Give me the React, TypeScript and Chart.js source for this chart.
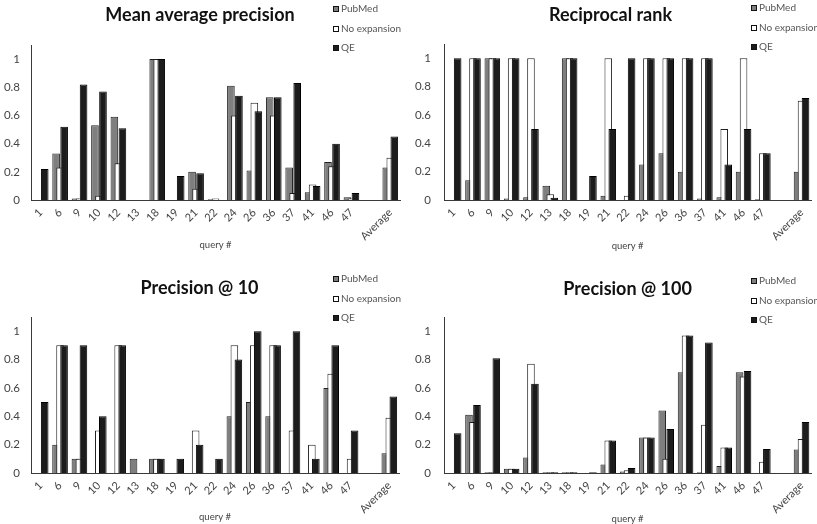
import React, { useEffect, useRef } from 'react';
import { Chart, registerables } from 'chart.js';

Chart.register(...registerables);

const FONT = 'Lato, "Open Sans", sans-serif';

// ---------- data ----------
const categories = ['1', '6', '9', '10', '12', '13', '18', '19', '21', '22', '24', '26', '36', '37', '41', '46', '47', '', 'Average'];
const seriesNames = ['PubMed', 'No expansion', 'QE'];
const yTickValues = [0, 0.2, 0.4, 0.6, 0.8, 1];

// Mean average precision
const mapPubMed = [0, 0.33, 0.01, 0.53, 0.59, 0, 1.0, 0, 0.2, 0.005, 0.81, 0.21, 0.73, 0.23, 0.055, 0.27, 0.02, null, 0.23];
const mapNoExp = [0, 0.23, 0.01, 0.03, 0.26, 0, 1.0, 0, 0.08, 0.01, 0.6, 0.69, 0.6, 0.05, 0.11, 0.24, 0.01, null, 0.3];
const mapQE = [0.22, 0.52, 0.82, 0.77, 0.51, 0, 1.0, 0.17, 0.19, 0, 0.74, 0.63, 0.73, 0.83, 0.1, 0.4, 0.05, null, 0.45];

// Reciprocal rank
const rrPubMed = [0, 0.14, 1, 0.01, 0.02, 0.1, 1, 0, 0.03, 0, 0.25, 0.33, 0.2, 0.01, 0.02, 0.2, 0.005, null, 0.2];
const rrNoExp = [0, 1, 1, 1, 1, 0.04, 1, 0, 1, 0.03, 1, 1, 1, 1, 0.5, 1, 0.33, null, 0.7];
const rrQE = [1, 1, 1, 1, 0.5, 0.015, 1, 0.17, 0.5, 1, 1, 1, 1, 1, 0.25, 0.5, 0.33, null, 0.72];

// Precision @ 10
const p10PubMed = [0, 0.2, 0.1, 0, 0, 0.1, 0.1, 0, 0, 0, 0.4, 0.5, 0.4, 0, 0, 0.6, 0, null, 0.14];
const p10NoExp = [0, 0.9, 0.1, 0.3, 0.9, 0, 0.1, 0, 0.3, 0, 0.9, 0.9, 0.9, 0.3, 0.2, 0.7, 0.1, null, 0.39];
const p10QE = [0.5, 0.9, 0.9, 0.4, 0.9, 0, 0.1, 0.1, 0.2, 0.1, 0.8, 1.0, 0.9, 1.0, 0.1, 0.9, 0.3, null, 0.54];

// Precision @ 100
const p100PubMed = [0, 0.41, 0.005, 0.03, 0.11, 0.005, 0.005, 0, 0.06, 0.01, 0.25, 0.44, 0.71, 0.005, 0.05, 0.71, 0, null, 0.165];
const p100NoExp = [0, 0.36, 0.005, 0.03, 0.77, 0.005, 0.005, 0, 0.23, 0.02, 0.25, 0.1, 0.97, 0.34, 0.18, 0.68, 0.08, null, 0.24];
const p100QE = [0.28, 0.48, 0.81, 0.03, 0.63, 0.005, 0.005, 0.005, 0.23, 0.035, 0.25, 0.31, 0.97, 0.92, 0.18, 0.72, 0.17, null, 0.36];

// ---------- styles ----------
const fills = ['#7f7f7f', '#ffffff', '#1c1c1c'];
const borders = ['#202020', '#202020', '#000000'];

// all positions below are local to each panel canvas
type PanelDef = {
  title: string;
  series: (number | null)[][];
  left: number; top: number; w: number; h: number;
  L: number; R: number; T: number; B: number;
  titleY: number; titleFull: boolean;
  legendX: number; legendY: number;
  xTitleY: number; yPad: number;
};

const panels: PanelDef[] = [
  { title: 'Mean average precision', series: [mapPubMed, mapNoExp, mapQE], left: 0, top: 0, w: 409, h: 262, L: 31, R: 400, T: 45, B: 200, titleY: 15, titleFull: true, legendX: 333, legendY: 9, xTitleY: 245, yPad: 11 },
  { title: 'Reciprocal rank', series: [rrPubMed, rrNoExp, rrQE], left: 409, top: 0, w: 408, h: 262, L: 35, R: 403, T: 44, B: 200, titleY: 15, titleFull: true, legendX: 342, legendY: 8, xTitleY: 246, yPad: 13 },
  { title: 'Precision @ 10', series: [p10PubMed, p10NoExp, p10QE], left: 0, top: 262, w: 409, h: 262, L: 31, R: 399, T: 55, B: 211, titleY: 26, titleFull: true, legendX: 333, legendY: 17, xTitleY: 255, yPad: 11 },
  { title: 'Precision @ 100', series: [p100PubMed, p100NoExp, p100QE], left: 409, top: 262, w: 408, h: 262, L: 35, R: 403, T: 55, B: 211, titleY: 27, titleFull: false, legendX: 342, legendY: 19, xTitleY: 257, yPad: 13 },
];

// draw datasets so that the first one is at the back, the last in front
const drawOrderPlugin = {
  id: 'drawOrder',
  beforeDatasetsDraw(chart: any) {
    const metas = chart.getSortedVisibleDatasetMetas();
    for (const meta of metas) meta.controller.draw();
    return false;
  },
};

const sideLegendPlugin = {
  id: 'sideLegend',
  afterDraw(chart: any, _args: any, opts: any) {
    const ctx = chart.ctx;
    ctx.save();
    ctx.font = `${opts.size}px ${FONT}`;
    ctx.textBaseline = 'middle';
    ctx.textAlign = 'left';
    chart.data.datasets.forEach((ds: any, i: number) => {
      const y = Math.round(opts.y + i * opts.dy);
      const x = opts.x;
      ctx.fillStyle = ds.backgroundColor;
      ctx.fillRect(x, y - 3, 6, 6);
      ctx.strokeStyle = '#111';
      ctx.lineWidth = 1;
      ctx.strokeRect(x + 0.5, y - 2.5, 5, 5);
      ctx.fillStyle = '#555';
      ctx.fillText(ds.label, x + 8, y);
    });
    ctx.restore();
  },
};

function Panel({ p }: { p: PanelDef }) {
  const ref = useRef<HTMLCanvasElement | null>(null);
  useEffect(() => {
    if (!ref.current) return;
    const titleSize = 18;
    const titleLH = titleSize * 1.2;
    const padTop = p.titleY - titleLH / 2;
    const padBottom = p.T - padTop - titleLH;
    const xTitleSize = 9.5;
    const xTitleLH = xTitleSize * 1.2;
    const chart = new Chart(ref.current, {
      type: 'bar',
      data: {
        labels: categories,
        datasets: p.series.map((vals, i) => ({
          label: seriesNames[i],
          data: vals,
          backgroundColor: fills[i],
          borderColor: borders[i],
          borderWidth: 1,
          categoryPercentage: 0.62,
          barPercentage: 1.9,
        })),
      },
      options: {
        responsive: false,
        animation: false,
        layout: { padding: { top: 0, left: 0, bottom: 0, right: p.w - p.R } },
        plugins: {
          legend: { display: false },
          tooltip: { enabled: false },
          title: {
            display: true,
            text: p.title,
            fullSize: p.titleFull,
            color: '#111',
            font: { family: FONT, size: titleSize, weight: 'bold', lineHeight: 1.2 },
            padding: { top: padTop, bottom: padBottom },
          },
          sideLegend: { x: p.legendX, y: p.legendY, dy: 19.5, size: 10 },
        } as any,
        scales: {
          x: {
            grid: { display: false, drawTicks: false },
            border: { display: true, color: '#3a3a3a', width: 1 },
            ticks: {
              autoSkip: false,
              maxRotation: 45,
              minRotation: 45,
              padding: 6,
              color: '#444',
              font: { family: FONT, size: 11 },
            },
            title: {
              display: true,
              text: 'query #',
              color: '#444',
              font: { family: FONT, size: xTitleSize, lineHeight: 1.2 },
              padding: { top: 0, bottom: p.h - p.xTitleY - xTitleLH / 2 },
            },
            afterFit: (scale: any) => { scale.height = p.h - p.B; },
          },
          y: {
            min: 0,
            max: 1.1,
            grid: { display: false, drawTicks: false },
            border: { display: true, color: '#3a3a3a', width: 1 },
            ticks: {
              stepSize: 0.2,
              includeBounds: false,
              padding: p.yPad,
              color: '#444',
              font: { family: FONT, size: 11.5 },
              callback: (v: any) => {
                const r = Math.round(Number(v) * 10) / 10;
                return yTickValues.includes(r) ? String(r) : '';
              },
            },
            afterFit: (scale: any) => { scale.width = p.L; },
          },
        },
      } as any,
      plugins: [drawOrderPlugin as any, sideLegendPlugin as any],
    });
    return () => chart.destroy();
  }, [p]);
  return (
    <canvas
      ref={ref}
      width={p.w}
      height={p.h}
      style={{ position: 'absolute', left: p.left, top: p.top, width: p.w, height: p.h, display: 'block' }}
    />
  );
}

export default function App() {
  return (
    <div style={{ position: 'absolute', left: 0, top: 0, width: 817, height: 524, background: '#fff', overflow: 'hidden' }}>
      {panels.map((p) => (
        <Panel key={p.title} p={p} />
      ))}
    </div>
  );
}
